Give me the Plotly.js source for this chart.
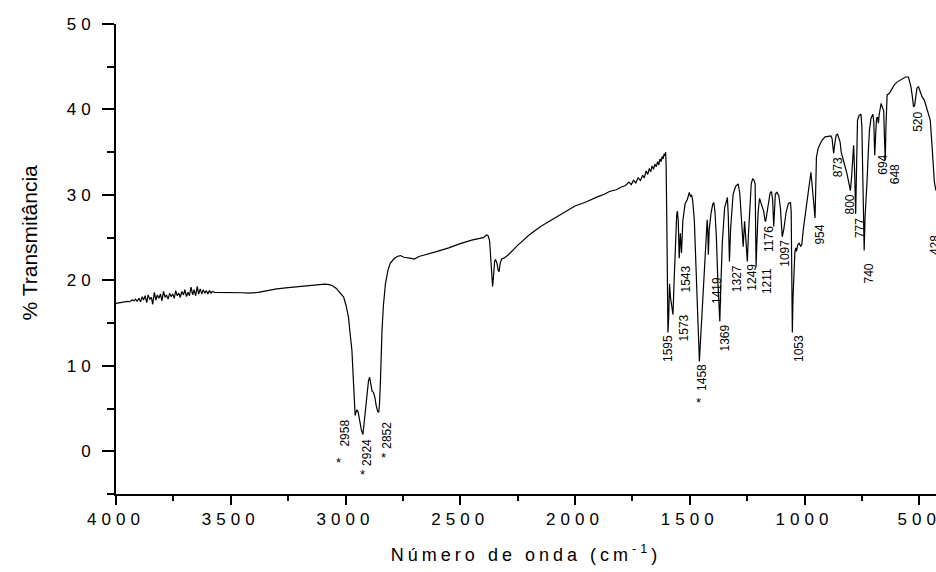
<!DOCTYPE html>
<html>
<head>
<meta charset="utf-8">
<script src="https://cdn.plot.ly/plotly-3.0.1.min.js"></script>
<style>
  html, body { margin: 0; padding: 0; background: #fff; }
  #chart { width: 936px; height: 572px; }
  .xtick text, .ytick text { letter-spacing: 5px; }
  .g-xtitle text { letter-spacing: 4px; }
</style>
</head>
<body>
<div id="chart"></div>
<script>
// Wavenumber (cm-1) and % transmittance
const wavenumber = [
  4000, 3990, 3975, 3960, 3950, 3940, 3930, 3922, 3915, 3908, 3900, 3893, 3886, 3880, 3873, 3866, 3860, 3853, 3846, 3840,
  3833, 3826, 3820, 3813, 3806, 3800, 3793, 3786, 3780, 3773, 3766, 3760, 3753, 3746, 3740, 3733, 3726, 3720, 3713, 3706,
  3700, 3693, 3686, 3680, 3673, 3666, 3660, 3653, 3646, 3640, 3633, 3626, 3620, 3613, 3606, 3600, 3593, 3586, 3580, 3570,
  3560, 3545, 3530, 3500, 3450, 3420, 3380, 3340, 3300, 3250, 3200, 3150, 3120, 3090, 3070, 3055, 3040, 3030, 3020, 3008, 2997,
  2987, 2980, 2972, 2966, 2962, 2958, 2955, 2950, 2945, 2940, 2935, 2930, 2924, 2918, 2912, 2906, 2900, 2895, 2890, 2884,
  2878, 2872, 2866, 2860, 2855, 2852, 2848, 2845, 2841, 2835, 2826, 2815, 2805, 2790, 2775, 2761, 2745, 2720, 2700, 2680,
  2650, 2600, 2550, 2500, 2450, 2400, 2385, 2378, 2372, 2367, 2362, 2359, 2355, 2350, 2346, 2340, 2335, 2331, 2326, 2320,
  2310, 2290, 2250, 2200, 2150, 2100, 2050, 2000, 1970, 1950, 1900, 1870, 1850, 1820, 1800, 1780, 1765, 1755, 1745, 1735,
  1725, 1715, 1705, 1698, 1690, 1683, 1676, 1670, 1664, 1658, 1652, 1646, 1640, 1635, 1630, 1625, 1620, 1616, 1612, 1608,
  1605, 1603, 1600, 1597, 1595, 1592, 1588, 1584, 1580, 1576, 1573, 1568, 1562, 1557, 1554, 1550, 1546, 1541, 1536, 1530,
  1520, 1510, 1505, 1502, 1497, 1492, 1487, 1480, 1472, 1465, 1460, 1458, 1454, 1448, 1440, 1434, 1428, 1424, 1421, 1419,
  1415, 1410, 1407, 1400, 1395, 1390, 1384, 1378, 1372, 1369, 1365, 1358, 1348, 1340, 1336, 1332, 1327, 1322, 1316, 1311,
  1300, 1289, 1282, 1274, 1270, 1267, 1264, 1261, 1256, 1252, 1249, 1245, 1238, 1232, 1226, 1220, 1215, 1213, 1211, 1208,
  1202, 1196, 1193, 1185, 1178, 1172, 1169, 1160, 1150, 1144, 1139, 1134, 1130, 1127, 1120, 1112, 1105, 1097, 1090, 1080,
  1070, 1061, 1058, 1056, 1053, 1050, 1046, 1042, 1038, 1035, 1029, 1023, 1017, 1012, 1005, 995, 985, 978, 972, 968,
  962, 958, 954, 951, 948, 940, 924, 910, 895, 885, 880, 876, 873, 868, 862, 856, 850, 845, 840, 834,
  825, 815, 808, 800, 795, 790, 786, 782, 779, 777, 774, 769, 762, 754, 750, 746, 742, 740, 736, 732,
  728, 722, 717, 710, 702, 698, 696, 694, 690, 686, 682, 678, 674, 666, 660, 655, 652, 648, 645, 640,
  630, 619, 608, 597, 580, 560, 547, 542, 536, 530, 525, 520, 515, 510, 503, 495, 488, 478, 470, 467,
  458, 452, 445, 440, 434, 430, 427
];
const transmittance = [
  17.3, 17.35, 17.45, 17.5, 17.55, 17.5, 17.7, 17.6, 17.8, 17.55, 17.9, 17.5, 18.1, 17.7, 18.2, 17.4, 18.3, 17.8, 18.0, 17.2,
  18.6, 17.7, 18.3, 17.9, 18.4, 17.6, 18.7, 18.0, 18.3, 17.8, 18.5, 18.1, 18.4, 17.9, 18.8, 18.2, 18.5, 18.0, 18.7, 18.3,
  18.9, 18.1, 18.6, 18.2, 19.2, 18.3, 18.9, 18.2, 19.3, 18.4, 19.0, 18.4, 18.9, 18.5, 18.8, 18.4, 18.8, 18.5, 18.7, 18.6,
  18.6, 18.6, 18.55, 18.6, 18.55, 18.5, 18.6, 18.8, 19.0, 19.15, 19.3, 19.45, 19.5, 19.55, 19.5, 19.35, 19.05, 18.75, 18.5, 18.05, 17.0,
  15.7, 13.8, 11.8, 8.5, 5.5, 4.2, 4.5, 4.85, 4.6, 3.8, 3.0, 2.4, 1.96, 3.5, 5.2, 6.8, 8.2, 8.67, 8.0, 7.0,
  6.9, 6.3, 5.3, 4.7, 4.57, 5.5, 8.0, 11.0, 14.1, 17.0, 19.6, 21.2, 22.0, 22.5, 22.8, 22.9, 22.7, 22.6, 22.5, 22.8,
  23.0, 23.4, 23.8, 24.3, 24.7, 25.0, 25.3, 25.2, 24.6, 22.5, 20.0, 19.3, 20.5, 22.3, 22.4, 22.0, 21.2, 21.0, 22.0, 22.5,
  22.6, 23.0, 24.1, 25.3, 26.3, 27.1, 27.9, 28.7, 29.0, 29.2, 29.8, 30.1, 30.4, 30.6, 30.9, 31.1, 31.5, 31.2, 31.7, 31.4,
  32.0, 31.7, 32.3, 32.0, 32.8, 32.4, 33.1, 32.7, 33.4, 33.0, 33.6, 33.3, 33.9, 33.5, 34.2, 33.9, 34.5, 34.2, 34.8, 34.6,
  35.0, 33.5, 27.0, 19.0, 13.9, 15.5, 19.6, 18.0, 17.2, 16.6, 16.0, 20.0, 25.0, 27.6, 28.1, 27.0, 22.6, 25.5, 23.2, 27.0,
  29.0, 29.5, 30.0, 30.3, 29.8, 30.0, 29.3, 27.0, 21.0, 14.5, 11.5, 10.5, 12.5, 15.5, 18.0, 21.0, 25.5, 27.1, 25.5, 23.0,
  26.0, 27.5, 27.9, 28.9, 29.1, 28.0, 25.1, 20.2, 16.5, 15.2, 19.0, 24.5, 28.5, 29.5, 29.7, 27.5, 22.2, 26.0, 29.0, 30.1,
  31.0, 31.3, 30.2, 27.3, 25.0, 23.95, 25.5, 26.9, 25.0, 23.5, 22.2, 25.0, 29.0, 31.3, 31.9, 31.7, 31.3, 27.0, 21.6, 24.0,
  28.0, 29.6, 29.3, 28.6, 28.1, 27.0, 26.9, 28.5, 30.2, 30.4, 29.5, 26.3, 28.5, 30.1, 30.3, 29.9, 28.5, 25.1, 26.0, 28.0,
  29.0, 29.1, 28.0, 22.0, 13.9, 18.0, 22.0, 23.3, 23.8, 23.4, 24.2, 24.35, 24.0, 24.15, 26.0, 28.1, 30.5, 32.0, 32.65, 31.5,
  30.1, 28.5, 27.3, 30.0, 34.4, 35.5, 36.4, 36.8, 36.9, 36.9, 36.6, 35.5, 34.85, 36.0, 37.0, 37.1, 36.6, 36.2, 35.0, 34.3,
  33.5, 32.5, 31.5, 30.5, 32.0, 34.5, 35.8, 33.0, 29.5, 27.8, 32.0, 38.75, 39.3, 39.45, 38.0, 33.0, 26.0, 23.5, 27.5, 30.5,
  31.3, 35.0, 37.6, 39.0, 39.45, 38.5, 36.0, 34.65, 37.0, 39.0, 39.1, 38.4, 39.5, 40.7, 40.2, 39.9, 37.0, 34.05, 38.0, 41.7,
  41.9, 42.5, 42.9, 43.2, 43.5, 43.8, 43.8, 43.2, 42.65, 41.5, 40.3, 40.5, 41.8, 42.5, 42.65, 42.0, 41.5, 41.1, 40.4, 39.9,
  39.2, 38.75, 36.0, 33.5, 31.5, 30.9, 30.5
];

// Peak labels and where they sit (data units)
const peakLabels = ['2958', '2924', '2852', '1595', '1573', '1543', '1458', '1419', '1369', '1327', '1249', '1211',
                    '1176', '1097', '1053', '954', '873', '800', '777', '740', '694', '648', '520', '428'];
const labelX = [3001, 2909, 2818, 1598, 1524, 1517, 1446, 1384, 1347, 1296, 1230, 1164,
                1152, 1086, 1027, 931, 855, 801, 759, 719, 659, 602, 503, 428];
const labelY = [2.1, -0.15, 1.85, 12.0, 14.4, 20.2, 8.6, 18.8, 13.3, 20.2, 20.4, 19.9,
                24.8, 23.2, 12.0, 25.4, 33.2, 28.9, 26.1, 20.8, 33.5, 32.4, 38.5, 24.1];
// Asterisk marks (data units)
const starX = [3030, 2928, 2834, 1463];
const starY = [-1.36, -2.73, -0.77, 5.74];

const xTicks = [4000, 3500, 3000, 2500, 2000, 1500, 1000, 500];
const yTicks = [0, 10, 20, 30, 40, 50];

const font = 'Liberation Sans, Arial, sans-serif';

const annotations = [];
peakLabels.forEach((t, i) => {
  annotations.push({
    x: labelX[i], y: labelY[i], xref: 'x', yref: 'y', text: t, showarrow: false,
    textangle: -90, font: {family: font, size: 12, color: '#000'}
  });
});
starX.forEach((sx, i) => {
  annotations.push({
    x: sx, y: starY[i], xref: 'x', yref: 'y', text: '*', showarrow: false,
    font: {family: font, size: 13, color: '#000'}
  });
});
// y-axis title placed as in the reference (slightly above plot centre)
annotations.push({
  x: -0.105, y: 0.535, xref: 'paper', yref: 'paper', text: '% Transmitância', showarrow: false,
  textangle: -90, xanchor: 'center', yanchor: 'middle',
  font: {family: font, size: 21, color: '#000'}
});

const trace = {
  x: wavenumber, y: transmittance, type: 'scatter', mode: 'lines',
  line: {color: '#000', width: 1.2}, hoverinfo: 'skip', showlegend: false
};

const layout = {
  width: 936, height: 572,
  margin: {l: 116, r: 0, t: 24, b: 78},
  paper_bgcolor: '#fff', plot_bgcolor: '#fff',
  showlegend: false,
  font: {family: font, color: '#000'},
  xaxis: {
    range: [4000, 427], autorange: false,
    tickmode: 'array', tickvals: xTicks, ticktext: xTicks.map(String),
    ticks: 'outside', ticklen: 9, tickwidth: 2, tickcolor: '#000',
    ticklabeloverflow: 'allow',
    minor: {dtick: 250, tick0: 0, ticks: 'outside', ticklen: 5, tickwidth: 2, tickcolor: '#000'},
    showline: true, linecolor: '#000', linewidth: 2,
    showgrid: false, zeroline: false,
    tickfont: {family: font, size: 17, color: '#000'},
    title: {text: 'Número de onda (cm<sup>-1</sup>)', font: {family: font, size: 18, color: '#000'}, standoff: 20}
  },
  yaxis: {
    range: [-5, 50], autorange: false,
    tickmode: 'array', tickvals: yTicks, ticktext: yTicks.map(String),
    ticks: 'outside', ticklen: 12, tickwidth: 2, tickcolor: '#000',
    ticklabelstandoff: 3,
    minor: {dtick: 5, tick0: 0, ticks: 'outside', ticklen: 7, tickwidth: 2, tickcolor: '#000'},
    showline: true, linecolor: '#000', linewidth: 2,
    showgrid: false, zeroline: false,
    tickfont: {family: font, size: 17, color: '#000'}
  },
  annotations: annotations
};

Plotly.newPlot('chart', [trace], layout, {displayModeBar: false, staticPlot: true});
</script>
</body>
</html>
